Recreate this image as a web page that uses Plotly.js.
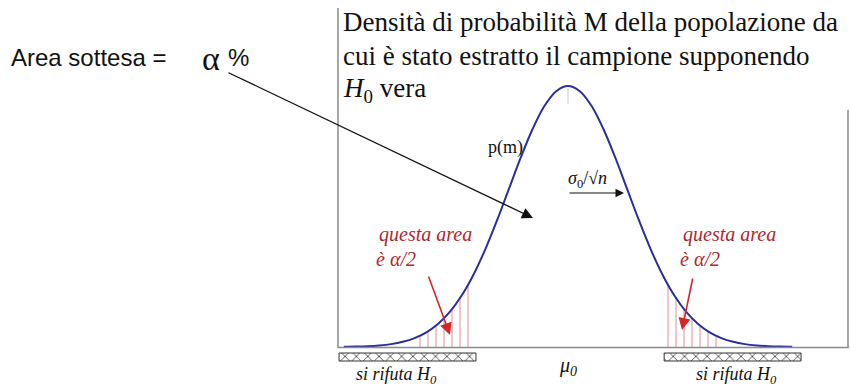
<!DOCTYPE html>
<html>
<head>
<meta charset="utf-8">
<script src="https://cdn.plot.ly/plotly-3.0.1.min.js"></script>
<style>html,body{margin:0;padding:0;background:#fff;}#chart{width:850px;height:387px;}</style>
</head>
<body>
<div id="chart"></div>
<script>
// standardized variable z = (m - mu0) / (sigma0/sqrt(n)) and density p(m)
const zValues = [-3.8,-3.6,-3.4,-3.2,-3.0,-2.8,-2.6,-2.4,-2.2,-2.0,-1.8,-1.6,-1.4,-1.2,-1.0,-0.8,-0.6,-0.4,-0.2,0,
                 0.2,0.4,0.6,0.8,1.0,1.2,1.4,1.6,1.8,2.0,2.2,2.4,2.6,2.8,3.0,3.2,3.4,3.6,3.8];
const density = [0.0003,0.0006,0.0012,0.0024,0.0044,0.0079,0.0136,0.0224,0.0355,0.0540,0.0790,0.1109,0.1497,0.1942,0.2420,0.2897,0.3332,0.3683,0.3910,0.3989,
                 0.3910,0.3683,0.3332,0.2897,0.2420,0.1942,0.1497,0.1109,0.0790,0.0540,0.0355,0.0224,0.0136,0.0079,0.0044,0.0024,0.0012,0.0006,0.0003];
// shaded tails (each of area alpha/2)
const leftTailZ = zValues.slice(6, 12);
const leftTailP = density.slice(6, 12);
const rightTailZ = zValues.slice(27, 33);
const rightTailP = density.slice(27, 33);
// rejection regions ("si rifuta H0")
const rejectLeft = [-3.88, -1.56];
const rejectRight = [1.63, 3.95];

const W = 850, H = 387;
const px = x => x / W;
const py = y => 1 - y / H;
const serif = "Liberation Serif";
const sans = "Liberation Sans";
const red = "#b3262e";
const blue = "#2b2e9c";

const barY0 = -0.0092, barY1 = -0.0214;

const tailPattern = {shape: '|', size: 8, solidity: 0.16, fgcolor: '#e3aab2', bgcolor: 'rgba(255,255,255,0)'};
const traces = [
  {x: leftTailZ, y: leftTailP, mode: 'lines', line: {width: 0, shape: 'spline'}, fill: 'tozeroy',
   fillcolor: 'rgba(0,0,0,0)', fillpattern: tailPattern, hoverinfo: 'skip', showlegend: false},
  {x: rightTailZ, y: rightTailP, mode: 'lines', line: {width: 0, shape: 'spline'}, fill: 'tozeroy',
   fillcolor: 'rgba(0,0,0,0)', fillpattern: tailPattern, hoverinfo: 'skip', showlegend: false},
  {x: zValues, y: density, mode: 'lines', line: {color: blue, width: 2, shape: 'spline', smoothing: 1},
   hoverinfo: 'skip', showlegend: false},
  {x: [rejectLeft[0], rejectLeft[1], rejectLeft[1], rejectLeft[0], rejectLeft[0], null,
       rejectRight[0], rejectRight[1], rejectRight[1], rejectRight[0], rejectRight[0]],
   y: [barY0, barY0, barY1, barY1, barY0, null, barY0, barY0, barY1, barY1, barY0],
   mode: 'lines', fill: 'toself', fillcolor: '#ffffff',
   fillpattern: {shape: 'x', size: 8, solidity: 0.2, fgcolor: '#444', bgcolor: '#fff'},
   line: {color: '#333', width: 1}, hoverinfo: 'skip', showlegend: false}
];

const ann = [];
function txt(x, y, text, size, family, color, xanchor) {
  ann.push({xref: 'paper', yref: 'paper', x: px(x), y: py(y), text: text, showarrow: false,
    xanchor: xanchor || 'left', yanchor: 'middle',
    font: {family: family || serif, size: size, color: color || '#111'}});
}
function arrow(tx, ty, sx, sy, color, width, size) {
  ann.push({xref: 'paper', yref: 'paper', x: px(tx), y: py(ty), ax: sx - tx, ay: sy - ty, text: '',
    showarrow: true, arrowhead: 2, arrowsize: size, arrowwidth: width, arrowcolor: color});
}

// title text block
txt(341, 22, "Densità di probabilità M della popolazione da", 27);
txt(341, 56, "cui è stato estratto il campione supponendo", 27);
txt(341, 90, "<i>H</i><sub>0</sub> vera", 27);
// Area sottesa
txt(9, 57, "Area sottesa = ", 24, sans);
txt(200, 59, "α", 34, serif);
txt(226, 57, "%", 24, sans);
// p(m)
txt(486, 147, "p(m)", 18);
// sigma label
txt(566, 180, "<i>σ</i><sub>0</sub>/√<i>n</i>", 18);
// red texts
txt(377, 234, "<i>questa area</i>", 20, serif, red);
txt(374, 259, "<i>è α/2</i>", 20, serif, red);
txt(681, 234, "<i>questa area</i>", 20, serif, red);
txt(678, 259, "<i>è α/2</i>", 20, serif, red);
// mu0
txt(568, 366, "<i>μ<sub>0</sub></i>", 20, serif, '#111', 'center');
// si rifuta
txt(354, 375, "<i>si rifuta H<sub>0</sub></i>", 18);
txt(694, 375, "<i>si rifuta H<sub>0</sub></i>", 18);

// arrows
arrow(533, 218, 227, 72, '#111', 1.3, 1.7);
arrow(624, 193, 568, 193, '#111', 1, 1.7);
arrow(450, 335, 428, 275, '#d42828', 1.6, 1.5);
arrow(682, 330, 693, 277, '#d42828', 1.6, 1.5);

const shapes = [
  {type: 'line', xref: 'paper', yref: 'paper', x0: px(338), x1: px(338), y0: py(8), y1: py(348), line: {color: '#8a8a8a', width: 1.5}},
  {type: 'line', xref: 'paper', yref: 'paper', x0: px(338), x1: px(849), y0: py(347.5), y1: py(347.5), line: {color: '#8a8a8a', width: 1.5}},
  {type: 'line', xref: 'paper', yref: 'paper', x0: px(848), x1: px(848), y0: py(110), y1: py(348), line: {color: '#8a8a8a', width: 1.5}},
  {type: 'line', xref: 'paper', yref: 'paper', x0: px(568), x1: px(568), y0: py(88), y1: py(104), line: {color: '#cccccc', width: 1}}
];

const layout = {
  width: W, height: H, margin: {l: 0, r: 0, t: 0, b: 0},
  paper_bgcolor: '#fff', plot_bgcolor: '#fff',
  font: {family: serif},
  xaxis: {range: [-568/59, (850-568)/59], visible: false, fixedrange: true},
  yaxis: {range: [-40/654.3, 347/654.3], visible: false, fixedrange: true},
  annotations: ann, shapes: shapes, showlegend: false
};
Plotly.newPlot('chart', traces, layout, {staticPlot: true, displayModeBar: false});
</script>
</body>
</html>
